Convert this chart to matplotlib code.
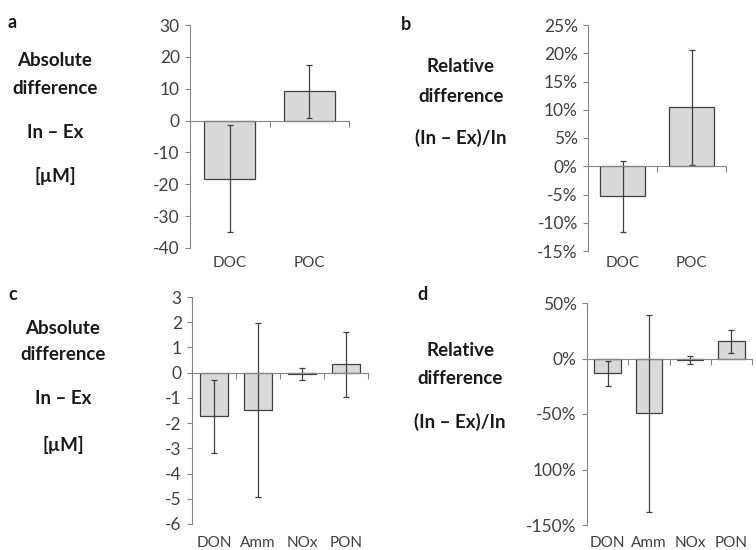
import matplotlib
matplotlib.use("Agg")
import matplotlib.pyplot as plt
from matplotlib.ticker import FixedLocator, FuncFormatter

plt.rcParams['font.family'] = ['Lato', 'DejaVu Sans']

# ---- data ----
cats_c = ["DOC", "POC"]
abs_c = [-18.3, 9.2]
abs_c_err = [16.8, 8.3]
rel_c = [-5.3, 10.4]
rel_c_err = [6.3, 10.1]

cats_n = ["DON", "Amm", "NOx", "PON"]
abs_n = [-1.73, -1.47, -0.05, 0.33]
abs_n_err = [1.45, 3.45, 0.23, 1.28]
rel_n = [-13.5, -49.5, -1.5, 15.5]
rel_n_err = [11.5, 89.0, 3.5, 10.5]

W, H = 756, 550
fig = plt.figure(figsize=(W / 100, H / 100), dpi=100)

def box(l, r, t, b):
    return [l / W, 1 - b / H, (r - l) / W, (b - t) / H]

AX = "#868686"
TXT = "#404040"

def panel(rect, cats, vals, errs, ylim, yticks, fmt, labels_y_px):
    ax = fig.add_axes(rect)
    x = list(range(len(cats)))
    ax.bar(x, vals, width=0.64, color="#d9d9d9", edgecolor="#404040", linewidth=0.9, zorder=2)
    ax.errorbar(x, vals, yerr=errs, fmt="none", ecolor="#404040", elinewidth=0.9,
                capsize=2.5, capthick=0.9, zorder=3)
    ax.set_xlim(-0.5, len(cats) - 0.5)
    ax.set_ylim(*ylim)
    ax.set_yticks(yticks)
    ax.yaxis.set_major_formatter(FuncFormatter(fmt))
    for s in ["top", "right"]:
        ax.spines[s].set_visible(False)
    ax.spines["bottom"].set_position(("data", 0))
    ax.spines["bottom"].set_color(AX)
    ax.spines["left"].set_color(AX)
    ax.spines["bottom"].set_zorder(4)
    ax.xaxis.set_major_locator(FixedLocator([i + 0.5 for i in range(len(cats))]))
    ax.tick_params(axis="x", direction="out", length=4, color=AX, labelbottom=False)
    ax.tick_params(axis="y", direction="out", length=3.8, color=AX, labelsize=12.5,
                   labelcolor=TXT, pad=3.5)
    for i, c in enumerate(cats):
        ax.text(i, labels_y_px, c, transform=ax.get_xaxis_transform(), ha="center",
                va="center", fontsize=11, color=TXT)
    ax.patch.set_alpha(0)
    return ax

def pct(v, p):
    if round(v) == -100:
        return "100%"
    return f"{v:.0f}%"

def num(v, p):
    return f"{v:.0f}"

# a
ax_a = panel(box(190, 349, 25, 248), cats_c, abs_c, abs_c_err, (-40, 30),
             [-40, -30, -20, -10, 0, 10, 20, 30], num, (248 - 263) / (248 - 25))
# b
ax_b = panel(box(588, 726, 25, 251), cats_c, rel_c, rel_c_err, (-15, 25),
             [-15, -10, -5, 0, 5, 10, 15, 20, 25], pct, (251 - 263) / (251 - 25))
# c
ax_c = panel(box(192, 368, 297, 524), cats_n, abs_n, abs_n_err, (-6, 3),
             [-6, -5, -4, -3, -2, -1, 0, 1, 2, 3], num, (524 - 543) / (524 - 297))
# d
ax_d = panel(box(587, 752, 303, 525), cats_n, rel_n, rel_n_err, (-150, 50),
             [-150, -100, -50, 0, 50], pct, (525 - 543) / (525 - 303))

def ftext(xp, yp, s, **kw):
    fig.text(xp / W, 1 - yp / H, s, ha="center", va="center", fontweight="bold",
             color="#1a1a1a", **kw)

ftext(12, 22, "a", fontsize=13)
ftext(406, 25, "b", fontsize=13)
ftext(13, 294, "c", fontsize=13)
ftext(422, 295, "d", fontsize=13)

for (xp, yp, s) in [(55, 60, "Absolute"), (55, 89, "difference"), (55, 132, "In – Ex"),
                    (55, 176, "[µM]"),
                    (461, 67, "Relative"), (461, 96, "difference"), (461, 138, "(In – Ex)/In"),
                    (63, 328, "Absolute"), (63, 355, "difference"), (63, 399, "In – Ex"),
                    (63, 445, "[µM]"),
                    (460, 351, "Relative"), (460, 379, "difference"), (460, 422, "(In – Ex)/In")]:
    ftext(xp, yp, s, fontsize=13.5)

fig.savefig("out.png", dpi=100)
